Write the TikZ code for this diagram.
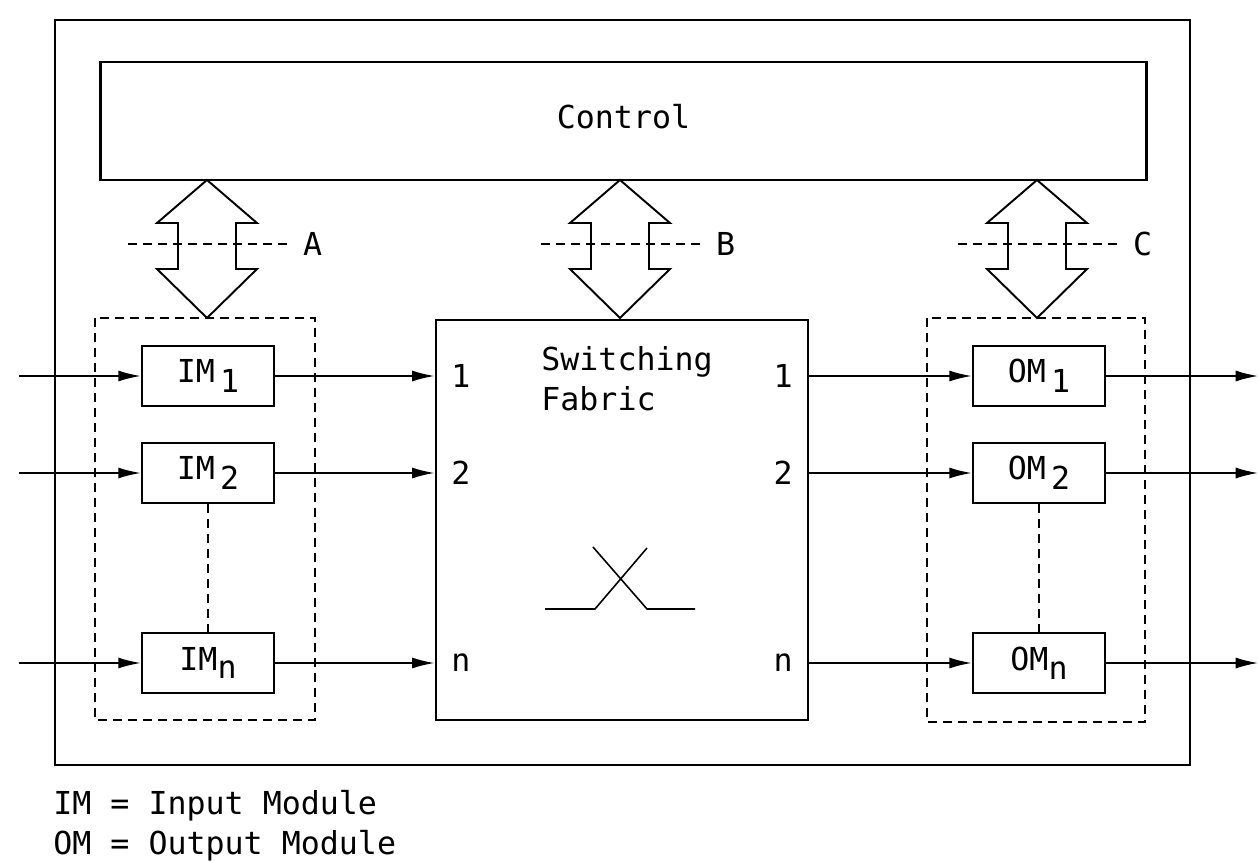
\documentclass[tikz,border=0pt]{standalone}
\usepackage{fontspec}
\setmainfont{DejaVu Sans Mono}
\usetikzlibrary{arrows.meta,positioning,calc}

\begin{document}
\begin{tikzpicture}[x=0.02cm, y=-0.02cm,
  font=\fontsize{18}{23}\selectfont,
  frame/.style={draw, line width=1.6pt},
  module/.style={rectangle, draw, line width=1.4pt, minimum width=2.64cm, minimum height=1.2cm, inner sep=0pt},
  group/.style={draw, line width=1.1pt, dash pattern=on 0.18cm off 0.12cm},
  bus/.style={draw, line width=1.1pt, fill=white},
  arr/.style={-{Latex[length=4.5mm,width=2.2mm]}, line width=1pt}
]
  \useasboundingbox (0,0) rectangle (1259,862);
  \draw[frame] (55,20) rectangle (1190,765);

  \node[module, line width=1.6pt, minimum width=20.94cm, minimum height=2.36cm] (ctrl) at (623.5,121) {\raisebox{0.18cm}{Control}};
  \node[module, line width=1.6pt, minimum width=7.44cm, minimum height=8cm] (fabric) at (622,520) {};
  \node[anchor=north west, align=left, inner sep=0pt] (fabtxt) at (541,346) {Switching\\Fabric};

  % input and output modules
  \node[module] (im1) at (208,376) {IM\,\raisebox{-0.6ex}{1}};
  \node[module] (im2) at (208,473) {IM\,\raisebox{-0.6ex}{2}};
  \node[module] (imn) at (208,663) {IM\raisebox{-0.5ex}{n}};
  \node[module] (om1) at (1039,376) {OM\,\raisebox{-0.6ex}{1}};
  \node[module] (om2) at (1039,473) {OM\,\raisebox{-0.6ex}{2}};
  \node[module] (omn) at (1039,663) {OM\raisebox{-0.5ex}{n}};

  \draw[group] (95,318) rectangle (315,720);
  \draw[group] (927,318) rectangle (1145,722);
  \draw[group] (im2.south) -- (imn.north);
  \draw[group] (om2.south) -- (omn.north);

  % buses to control
  \foreach \x/\l in {207/A,620/B,1037/C} {
    \draw[bus] (\x,180) -- ++(-50,43) -- ++(21,0) -- ++(0,46) -- ++(-21,0) -- (\x,318)
      -- ++(50,-49) -- ++(-21,0) -- ++(0,-46) -- ++(21,0) -- cycle;
    \draw[group] (\x-79,244) -- (\x+81,244) node[right, inner sep=8pt] {\l};
  }

  \foreach \k in {1,2,n} {
    \draw[arr] ([xshift=-2.44cm]im\k.west) -- (im\k.west);
    \draw[arr] (im\k.east) -- (im\k.east -| fabric.west) node[right, inner sep=9pt] {\k};
    \draw[arr] (om\k.west -| fabric.east) node[left, inner sep=9pt] {\k} -- (om\k.west);
    \draw[arr] (om\k.east) -- ([xshift=3.04cm]om\k.east);
  }

  % crossbar symbol
  \draw[line width=0.9pt] (545,609) -- (595,609) -- (647,548);
  \draw[line width=0.9pt] (593,547) -- (647,609) -- (695,609);

  \node[anchor=north west, align=left, inner sep=0pt] (legend) at (53,790) {IM = Input Module\\OM = Output Module};
\end{tikzpicture}
\end{document}
